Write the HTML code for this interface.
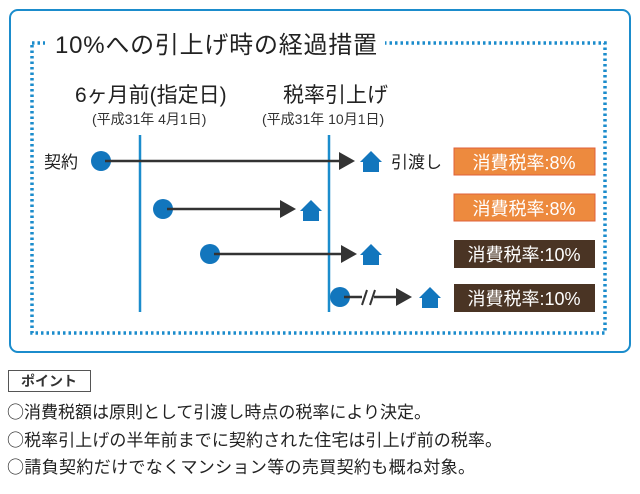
<!DOCTYPE html>
<html><head><meta charset="utf-8"><style>
body{margin:0;background:#fff;width:640px;height:489px;overflow:hidden}
svg text{font-family:"Liberation Sans","Noto Sans CJK JP",sans-serif}
svg text.j{font-family:"Noto Sans CJK JP",sans-serif}
</style></head><body>
<svg width="640" height="489" viewBox="0 0 640 489" xmlns="http://www.w3.org/2000/svg">
<rect x="10" y="10" width="620" height="342" rx="8" fill="#fff" stroke="#1b8ccc" stroke-width="2"/>
<rect x="32" y="43" width="573" height="290" fill="none" stroke="#1b8ccc" stroke-width="3.5" stroke-dasharray="2.5 3"/>
<rect x="45" y="28" width="340" height="30" fill="#fff"/>
<text x="55" y="53" font-size="24" fill="#222" textLength="322">10%への引上げ時の経過措置</text>
<text x="75" y="102" font-size="21" fill="#222">6ヶ月前(指定日)</text>
<text x="92" y="124" font-size="14" fill="#333">(平成31年 4月1日)</text>
<text x="283" y="102" font-size="21" fill="#222">税率引上げ</text>
<text x="262" y="124" font-size="14" fill="#333">(平成31年 10月1日)</text>
<line x1="140" y1="135" x2="140" y2="312" stroke="#1b8ccc" stroke-width="2.5"/>
<line x1="329" y1="135" x2="329" y2="312" stroke="#1b8ccc" stroke-width="2.5"/>
<g fill="#1276bd">
<circle cx="101" cy="161" r="10"/><circle cx="163" cy="209" r="10"/><circle cx="210" cy="254" r="10"/><circle cx="340" cy="297" r="10"/>
</g>
<g stroke="#333" stroke-width="2.5">
<line x1="105" y1="161" x2="340" y2="161"/><line x1="167" y1="209" x2="282" y2="209"/>
<line x1="214" y1="254" x2="343" y2="254"/><line x1="344" y1="297" x2="398" y2="297"/>
</g>
<rect x="362" y="290" width="12" height="14" fill="#fff"/>
<g stroke="#333" stroke-width="2"><line x1="362" y1="305" x2="367" y2="290"/><line x1="370" y1="305" x2="375" y2="290"/></g>
<g fill="#333">
<polygon points="339,152 355,161 339,170"/><polygon points="280,200 296,209 280,218"/>
<polygon points="341,245 357,254 341,263"/><polygon points="396,288 412,297 396,306"/>
</g>
<g fill="#1276bd">
<path d="M360,162 L371,151 L382,162 L379,162 L379,172 L363,172 L363,162Z"/>
<path d="M300,211 L311,200 L322,211 L319,211 L319,221 L303,221 L303,211Z"/>
<path d="M360,255 L371,244 L382,255 L379,255 L379,265 L363,265 L363,255Z"/>
<path d="M419,298 L430,287 L441,298 L438,298 L438,308 L422,308 L422,298Z"/>
</g>
<text x="44" y="168" font-size="17" fill="#222">契約</text>
<text x="391" y="168" font-size="17" fill="#222">引渡し</text>
<rect x="454" y="148" width="141" height="27" fill="#ed8a3e" stroke="#e0603a"/>
<rect x="454" y="194" width="141" height="27" fill="#ed8a3e" stroke="#e0603a"/>
<rect x="454" y="240" width="141" height="28" fill="#4a3424"/>
<rect x="454" y="284" width="141" height="28" fill="#4a3424"/>
<g fill="#fff" font-size="18" text-anchor="middle">
<text x="524" y="169">消費税率:8%</text><text x="524" y="215">消費税率:8%</text>
<text x="524" y="261">消費税率:10%</text><text x="524" y="305">消費税率:10%</text>
</g>
<rect x="8.5" y="370.5" width="82" height="21" fill="#fff" stroke="#555"/>
<text x="21" y="386" font-size="14" font-weight="bold" fill="#333">ポイント</text>
<g font-size="17" fill="#222">
<text class="j" x="7" y="418" textLength="424">○消費税額は原則として引渡し時点の税率により決定。</text>
<text class="j" x="7" y="446" textLength="495">○税率引上げの半年前までに契約された住宅は引上げ前の税率。</text>
<text class="j" x="7" y="473" textLength="468">○請負契約だけでなくマンション等の売買契約も概ね対象。</text>
</g>
</svg>
</body></html>
